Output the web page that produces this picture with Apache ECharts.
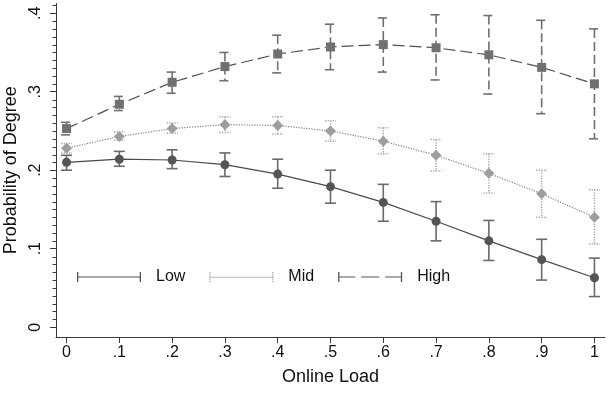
<!DOCTYPE html>
<html>
<head>
<meta charset="utf-8">
<script src="https://cdn.jsdelivr.net/npm/echarts@6/dist/echarts.min.js"></script>
<style>
html,body{margin:0;padding:0;background:#fff;}
#chart{width:612px;height:393px;}
</style>
</head>
<body>
<div id="chart"></div>
<script>
// ---- data ----
var xValues = [0, 0.1, 0.2, 0.3, 0.4, 0.5, 0.6, 0.7, 0.8, 0.9, 1];
var xTicks = [0, 0.1, 0.2, 0.3, 0.4, 0.5, 0.6, 0.7, 0.8, 0.9, 1];
var yTicks = [0, 0.1, 0.2, 0.3, 0.4];

var lowMean = [0.210, 0.214, 0.213, 0.207, 0.195, 0.179, 0.159, 0.135, 0.110, 0.086, 0.063];
var lowLower = [0.200, 0.205, 0.202, 0.192, 0.177, 0.158, 0.135, 0.110, 0.085, 0.060, 0.039];
var lowUpper = [0.219, 0.224, 0.226, 0.222, 0.214, 0.200, 0.182, 0.160, 0.136, 0.112, 0.088];

var midMean = [0.228, 0.243, 0.253, 0.258, 0.257, 0.250, 0.237, 0.219, 0.196, 0.170, 0.140];
var midLower = [0.222, 0.238, 0.247, 0.248, 0.246, 0.237, 0.221, 0.199, 0.171, 0.140, 0.106];
var midUpper = [0.234, 0.249, 0.260, 0.268, 0.268, 0.263, 0.254, 0.239, 0.221, 0.200, 0.175];

var highMean = [0.253, 0.284, 0.312, 0.332, 0.348, 0.357, 0.360, 0.356, 0.347, 0.331, 0.310];
var highLower = [0.245, 0.276, 0.298, 0.314, 0.324, 0.328, 0.325, 0.315, 0.297, 0.272, 0.240];
var highUpper = [0.261, 0.294, 0.325, 0.350, 0.372, 0.386, 0.394, 0.398, 0.397, 0.391, 0.380];

var seriesNames = ['Low', 'Mid', 'High'];

// ---- helpers ----
function pairs(means) { return xValues.map(function (x, i) { return [x, means[i]]; }); }
function bars(lo, hi) { return xValues.map(function (x, i) { return [x, lo[i], hi[i]]; }); }
function fmt(v) {
  if (v === 0) return '0';
  if (v === 1) return '1';
  return String(+v.toFixed(2)).replace(/^0/, '');
}
var minorTicks = [];
for (var k = 0; k <= 41; k++) { if (k % 10 !== 0) minorTicks.push(+(k / 100).toFixed(2)); }

function errRender(color, width, dash) {
  return function (params, api) {
    var x = api.value(0), lo = api.value(1), hi = api.value(2);
    var pTop = api.coord([x, hi]);
    var pBot = api.coord([x, lo]);
    var w = 5.5;
    var st = { stroke: color, lineWidth: width, lineDash: dash, fill: null };
    return {
      type: 'group',
      children: [
        { type: 'line', shape: { x1: pTop[0], y1: pTop[1], x2: pBot[0], y2: pBot[1] }, style: st },
        { type: 'line', shape: { x1: pTop[0] - w, y1: pTop[1], x2: pTop[0] + w, y2: pTop[1] }, style: st },
        { type: 'line', shape: { x1: pBot[0] - w, y1: pBot[1], x2: pBot[0] + w, y2: pBot[1] }, style: st }
      ]
    };
  };
}

// minor y ticks drawn on the axis line (left edge of the grid)
function minorTickRender(params, api) {
  var p = api.coord([0, api.value(1)]);
  var x0 = params.coordSys.x;
  return {
    type: 'line',
    shape: { x1: x0 - 3.5, y1: Math.round(p[1]) + 0.5, x2: x0, y2: Math.round(p[1]) + 0.5 },
    style: { stroke: '#3a3a3a', lineWidth: 1 }
  };
}

// legend icon paths (64 x 10 box)
var lowIcon = 'path://M0,0h1.3v10h-1.3z M0,4.4h64v1.2h-64z M62.7,0h1.3v10h-1.3z';
var midIconParts = [];
for (var d = 0; d < 64; d += 2) midIconParts.push('M' + d + ',4.4h1.2v1.2h-1.2z');
for (var e = 0; e < 10; e += 2) { midIconParts.push('M0,' + e + 'h1.2v1.2h-1.2z'); midIconParts.push('M62.8,' + e + 'h1.2v1.2h-1.2z'); }
var midIcon = 'path://' + midIconParts.join(' ');
var highIcon = 'path://M0,0h1.3v10h-1.3z M0,4.4h17v1.2h-17z M23,4.4h18v1.2h-18z M47,4.4h17v1.2h-17z M62.7,0h1.3v10h-1.3z';

var axisColor = '#3a3a3a';
var font = 'Liberation Sans, Arial, sans-serif';

var chart = echarts.init(document.getElementById('chart'), null, { renderer: 'canvas' });
chart.setOption({
  backgroundColor: '#ffffff',
  animation: false,
  textStyle: { fontFamily: font },
  grid: { left: 56, right: 7, top: 3.4, bottom: 56, containLabel: false, outerBoundsMode: 'none' },
  legend: {
    left: 77, top: 269, padding: 0,
    itemWidth: 64, itemHeight: 10, itemGap: 24,
    symbolKeepAspect: false,
    data: [
      { name: 'Low', icon: lowIcon, itemStyle: { color: '#555555' } },
      { name: 'Mid', icon: midIcon, itemStyle: { color: '#a0a0a0' } },
      { name: 'High', icon: highIcon, itemStyle: { color: '#555555' } }
    ],
    textStyle: { fontSize: 16, color: '#111', fontFamily: font, padding: [0, 0, 0, 10] },
    selectedMode: false
  },
  xAxis: {
    type: 'value', min: -0.02, max: 1.02,
    name: 'Online Load', nameLocation: 'middle', nameGap: 31,
    nameTextStyle: { fontSize: 18, color: '#111', fontFamily: font },
    axisLine: { onZero: false, lineStyle: { color: axisColor, width: 1 } },
    axisTick: { show: true, length: 6, customValues: xTicks, lineStyle: { color: axisColor } },
    axisLabel: { customValues: xTicks, formatter: fmt, fontSize: 16, color: '#111', margin: 8, fontFamily: font },
    splitLine: { show: false }
  },
  yAxis: {
    type: 'value', min: -0.0125, max: 0.4125,
    name: 'Probability of Degree', nameLocation: 'middle', nameGap: 33,
    nameTextStyle: { fontSize: 18, color: '#111', fontFamily: font },
    axisLine: { show: true, onZero: false, lineStyle: { color: axisColor, width: 1 } },
    axisTick: { show: true, length: 6, customValues: yTicks, lineStyle: { color: axisColor } },
    axisLabel: { customValues: yTicks, formatter: fmt, rotate: 90, fontSize: 16, color: '#111', margin: 12, fontFamily: font },
    splitLine: { show: false }
  },
  series: [
    {
      type: 'custom', renderItem: minorTickRender, clip: false, silent: true,
      data: minorTicks.map(function (v) { return [0, v]; }), encode: { x: 0, y: 1 }, z: 1
    },
    {
      name: 'High', type: 'custom', renderItem: errRender('#707070', 1.6, [9, 4]),
      data: bars(highLower, highUpper), encode: { x: 0, y: [1, 2] }, z: 2, silent: true
    },
    {
      name: 'Mid', type: 'custom', renderItem: errRender('#a8a8a8', 1.5, [1.3, 1.3]),
      data: bars(midLower, midUpper), encode: { x: 0, y: [1, 2] }, z: 2, silent: true
    },
    {
      name: 'Low', type: 'custom', renderItem: errRender('#6a6a6a', 1.6, null),
      data: bars(lowLower, lowUpper), encode: { x: 0, y: [1, 2] }, z: 2, silent: true
    },
    {
      name: 'High', type: 'line', data: pairs(highMean),
      symbol: 'rect', symbolSize: 9, showSymbol: true,
      lineStyle: { color: '#505050', width: 1.2, type: [12, 5] },
      itemStyle: { color: '#707070', borderWidth: 0 }, z: 3
    },
    {
      name: 'Mid', type: 'line', data: pairs(midMean),
      symbol: 'diamond', symbolSize: 11, showSymbol: true,
      lineStyle: { color: '#8a8a8a', width: 1.2, type: [1.3, 1.3] },
      itemStyle: { color: '#9e9e9e', borderWidth: 0 }, z: 3
    },
    {
      name: 'Low', type: 'line', data: pairs(lowMean),
      symbol: 'circle', symbolSize: 9, showSymbol: true,
      lineStyle: { color: '#4a4a4a', width: 1.2, type: 'solid' },
      itemStyle: { color: '#555555', borderWidth: 0 }, z: 3
    }
  ]
});
</script>
</body>
</html>
